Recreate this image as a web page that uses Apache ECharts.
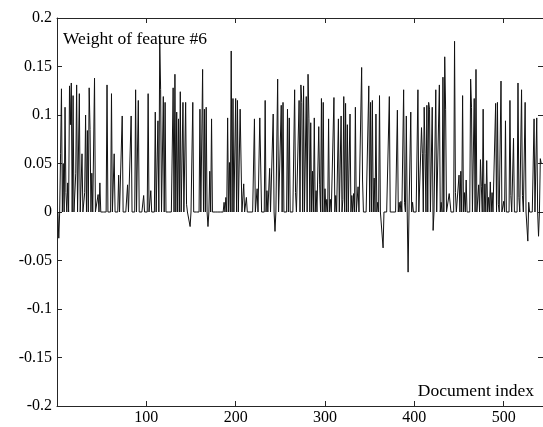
<!DOCTYPE html>
<html>
<head>
<meta charset="utf-8">
<script src="https://cdn.jsdelivr.net/npm/echarts@6/dist/echarts.min.js"></script>
<style>
  html, body { margin: 0; padding: 0; background: #fff; }
  #main { width: 543px; height: 427px; }
</style>
</head>
<body>
<div id="main"></div>
<script>
// weight of feature #6 for documents 1..542
const weights = [
  0, -0.027, 0, 0.06, 0.127, 0, 0.05, 0, 0.108, 0.02, 0, 0.03, 0, 0.13, 0.09, 0.133, 0, 0.12, 0, 0,          // 1
  0.04, 0.131, 0, 0, 0.122, 0, 0, 0.06, 0, 0, 0.02, 0.1, 0, 0.084, 0, 0.128, 0.085, 0, 0.04, 0,              // 21
  0, 0.138, 0, 0, 0, 0.018, 0, 0.03, 0, 0, 0, 0, 0, 0, 0, 0.131, 0, 0, 0, 0,                                 // 41
  0.122, 0, 0, 0.06, 0, 0, 0, 0, 0.038, 0, 0, 0, 0.099, 0, 0, 0, 0, 0, 0.028, 0,                             // 61
  0, 0, 0.099, 0, 0, 0, 0, 0.126, 0, 0, 0.115, 0, 0, 0, 0, 0, 0.017, 0, 0, 0,                                // 81
  0, 0.122, 0, 0, 0.022, 0, 0, 0, 0, 0.103, 0, 0, 0.094, 0, 0.177, 0.126, 0, 0, 0.119, 0,                    // 101
  0.113, 0, 0, 0, 0, 0, 0, 0, 0, 0.128, 0, 0.142, 0, 0.103, 0, 0.096, 0, 0.124, 0, 0,                        // 121
  0.113, 0, 0, 0.113, 0.008, 0, 0, 0, -0.015, 0, 0, 0.113, 0, 0, 0, 0, 0, 0, 0, 0.106,                       // 141
  0, 0, 0.147, 0, 0.106, 0, 0.108, 0, -0.015, 0, 0.042, 0, 0.096, 0, 0, 0, 0, 0, 0, 0,                       // 161
  0, 0, 0, 0, 0, 0, 0.01, 0, 0.015, 0, 0.097, 0, 0.051, 0, 0.166, 0, 0.117, 0, 0, 0.117,                     // 181
  0, 0.115, 0, 0, 0.106, 0.105, 0, 0, 0.029, 0, 0, 0.015, 0, 0, 0, 0, 0, 0, 0, 0,                            // 201
  0.096, 0, 0, 0.024, 0, 0, 0.097, 0.097, 0, 0, 0, 0, 0.115, 0, 0.022, 0, 0, 0.045, 0, 0,                    // 221
  0, 0.101, 0, -0.02, 0, 0, 0.137, 0, 0, 0, 0.11, 0, 0.113, 0, 0, 0, 0, 0.106, 0, 0.097,                     // 241
  0, 0, 0, 0, 0, 0.126, 0.02, 0, 0, 0, 0.115, 0, 0.131, 0.113, 0, 0.13, 0, 0, 0.119, 0,                      // 261
  0.142, 0.096, 0, 0.092, 0, 0.042, 0, 0.097, 0, 0.022, 0, 0, 0.088, 0.028, 0, 0.117, 0, 0.113, 0, 0.024,   // 281
  0, 0.013, 0, 0.096, 0, 0.013, 0, 0, 0, 0.118, 0, 0.017, 0, 0, 0.096, 0, 0, 0.099, 0, 0.013,                // 301
  0.119, 0, 0.112, 0, 0.09, 0, 0, 0.101, 0, 0.017, 0, 0.019, 0, 0.108, 0, 0, 0.026, 0, 0, 0,                 // 321
  0.149, 0.033, 0, 0, 0, 0, 0, 0, 0.13, 0, 0.113, 0, 0.115, 0, 0.035, 0, 0.101, 0, 0.01, 0,                  // 341
  0.12, 0, 0, 0, -0.037, 0, 0, 0, 0, 0, 0, 0.119, 0, 0, 0, 0, 0, 0, 0, 0,                                    // 361
  0.105, 0, 0.01, 0, 0.011, 0, 0, 0.126, 0.01, 0, 0.099, 0, -0.062, 0, 0, 0.103, 0, 0.01, 0, 0,              // 381
  0, 0, 0, 0.126, 0, 0, 0, 0.087, 0.06, 0, 0.108, 0.06, 0, 0.11, 0, 0.113, 0.106, 0, 0, 0.108,               // 401
  -0.019, 0, 0, 0.126, 0, 0, 0, 0.131, 0, 0.01, 0, 0.139, 0, 0.16, 0.106, 0, 0, 0, 0.019, 0.017,             // 421
  0, 0, 0, 0, 0.176, 0.02, 0, 0, 0, 0.038, 0, 0.042, 0, 0.12, 0, 0.02, 0, 0.033, 0, 0,                       // 441
  0, 0, 0.137, 0.108, 0, 0, 0.117, 0, 0.147, 0, 0, 0.028, 0, 0.054, 0.026, 0, 0.106, 0, 0.029, 0,            // 461
  0.053, 0, 0.015, 0, 0.031, 0, 0.02, 0, 0, 0, 0.112, 0, 0.113, 0.008, 0, 0, 0.135, 0, 0, 0.011,             // 481
  0, 0.094, 0, 0, 0, 0, 0.115, 0.017, 0, 0, 0.076, 0, 0, 0, 0, 0.133, 0.015, 0, 0, 0.126,                    // 501
  0.017, 0, 0, 0.113, 0, 0, -0.03, 0.01, 0, 0, 0, 0, 0, 0.096, 0, 0, 0.097, 0, -0.025, 0, 0.055, 0.05        // 521
];
const xTicks = [100, 200, 300, 400, 500];
const yRange = [-0.2, 0.2];

const chart = echarts.init(document.getElementById('main'), null, { renderer: 'canvas' });
const serif = 'Liberation Serif, Times New Roman, serif';
const axisCol = '#262626';

const points = weights.map((w, i) => [i + 1, w]);

const line = { show: true, onZero: false, lineStyle: { color: axisCol, width: 1 } };
const ticks = { show: true, inside: true, length: 5, lineStyle: { color: axisCol, width: 1 } };
const labelFont = { fontFamily: serif, fontSize: 16, color: '#000' };
const noteFont = { fontFamily: serif, fontSize: 17.5, fontWeight: 'normal', color: '#000' };

chart.setOption({
  animation: false,
  backgroundColor: '#fff',
  grid: { left: 57, right: -1, top: 18, bottom: 21 },
  title: [
    { text: 'Weight of feature #6', left: 63, top: 30, padding: 0, textStyle: noteFont },
    { text: 'Document index', right: 9, top: 382, padding: 0, textStyle: noteFont }
  ],
  xAxis: [
    {
      type: 'value', min: 0, max: 544, interval: 100, position: 'bottom',
      axisLine: line, axisTick: ticks, splitLine: { show: false },
      axisLabel: {
        ...labelFont, margin: 4, showMinLabel: false, showMaxLabel: false,
        formatter: v => (xTicks.includes(v) ? String(v) : '')
      }
    },
    {
      type: 'value', min: 0, max: 544, interval: 100, position: 'top',
      axisLine: line, axisTick: ticks, axisLabel: { show: false }, splitLine: { show: false }
    }
  ],
  yAxis: [
    {
      type: 'value', min: yRange[0], max: yRange[1], interval: 0.05, position: 'left',
      axisLine: line, axisTick: ticks, splitLine: { show: false },
      axisLabel: { ...labelFont, margin: 5, formatter: v => String(parseFloat(v.toFixed(2))) }
    },
    {
      type: 'value', min: yRange[0], max: yRange[1], interval: 0.05, position: 'right',
      axisLine: line, axisTick: ticks, axisLabel: { show: false }, splitLine: { show: false }
    }
  ],
  series: [
    {
      type: 'line',
      data: points,
      showSymbol: false,
      symbol: 'none',
      sampling: null,
      lineStyle: { color: '#111', width: 1 }
    }
  ]
});
</script>
</body>
</html>
